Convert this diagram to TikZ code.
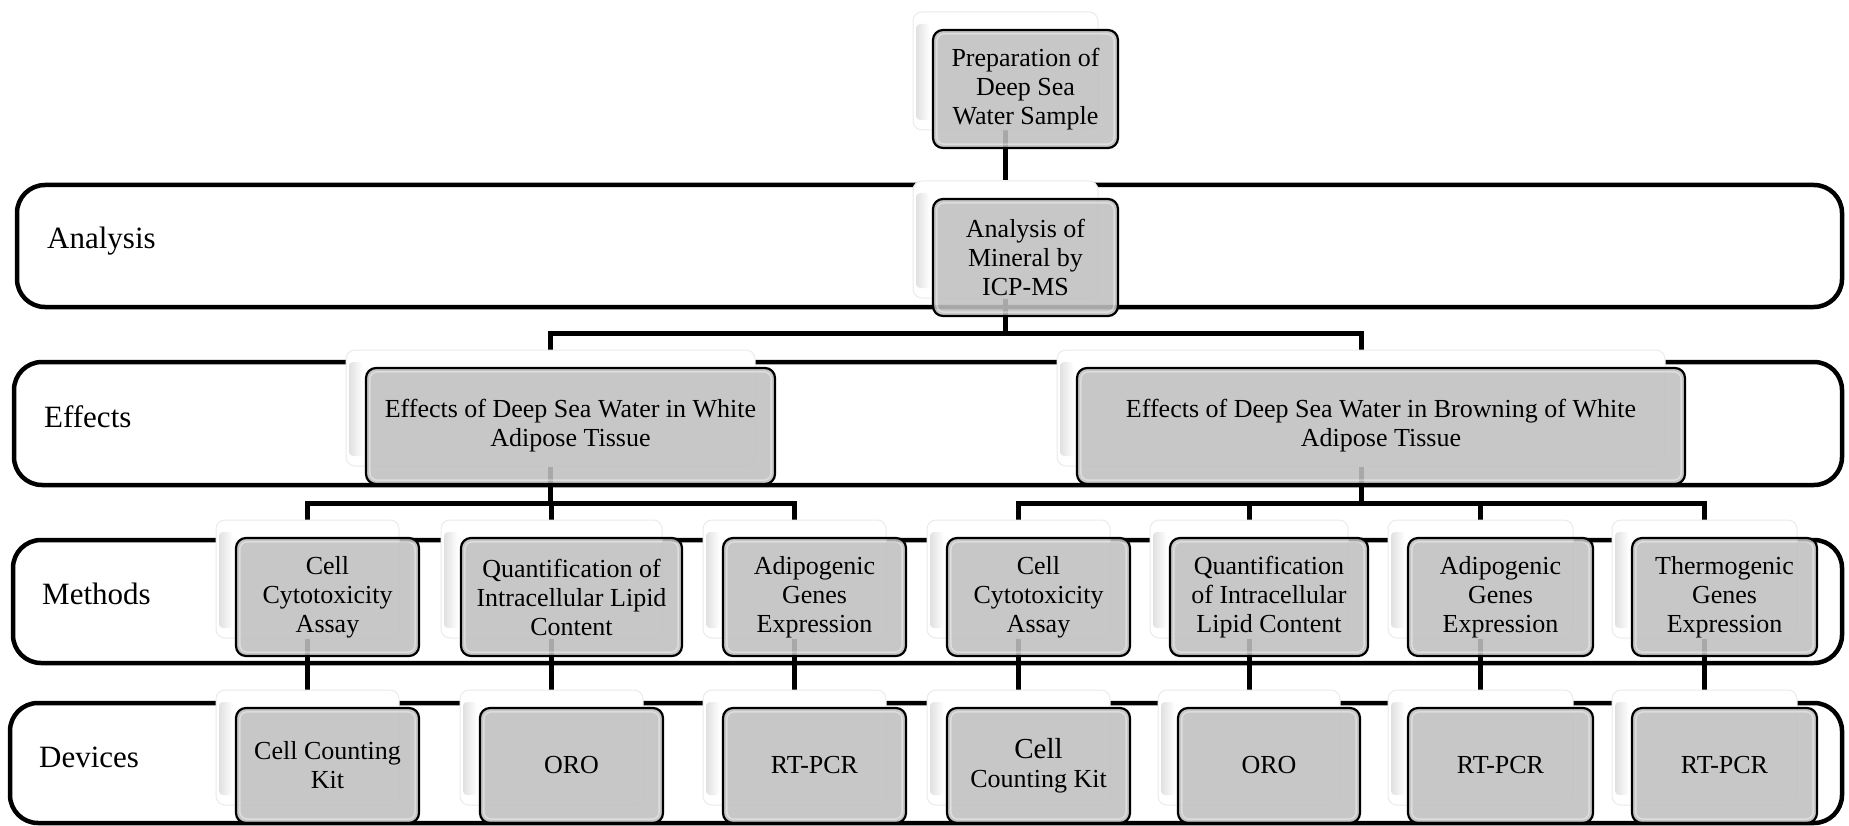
\documentclass[tikz,border=0pt]{standalone}
\usepackage{fontspec}
\setmainfont{Liberation Serif}
\usetikzlibrary{calc}
\definecolor{cardgray}{RGB}{192,192,192}
\pgfdeclarelayer{lanelayer}
\pgfdeclarelayer{connlayer}
\pgfsetlayers{lanelayer,connlayer,main}
\tikzset{
  lane/.style={draw=black, line width=4.5pt, rounded corners=28pt, fill=white},
  lanelabel/.style={anchor=base west, font=\fontsize{31}{36}\selectfont, inner sep=0pt},
  backcard/.style={draw=black!8, line width=1pt, fill=white, rounded corners=9pt, inner sep=0pt},
  frontcard/.style={draw=black, line width=2.2pt, fill=cardgray, fill opacity=0.88, text opacity=1,
    rounded corners=10pt, align=center, inner sep=2pt, font=\fontsize{26}{29}\selectfont},
  gloss/.style={draw=white, opacity=0.4, line width=1.5pt, rounded corners=7pt},
  conn/.style={draw=black, line width=5pt},
}
% name, left, top, right, bottom, text
\newcommand{\mkcard}[6]{%
  \node[backcard, minimum width={#4-#2}, minimum height={#5-#3}] (b#1) at ({(#2+#4)/2},{(#3+#5)/2}) {};
  \shade[left color=black!12, right color=white, rounded corners=4pt] (#2+3,#3+12) rectangle (#2+17,#5-10);
  \node[frontcard, minimum width={#4-#2}, minimum height={#5-#3}] (f#1) at ({(#2+#4)/2+20},{(#3+#5)/2+18}) {#6};
  \draw[gloss] ($(f#1.south west)+(5,-5)$) rectangle ($(f#1.north east)+(-5,5)$);
}
\begin{document}
\begin{tikzpicture}[x=1pt, y=-1pt]
\useasboundingbox (0,0) rectangle (1849,826);

\begin{pgfonlayer}{lanelayer}
  \path[lane] (17,185) rectangle (1842,307);
  \path[lane] (14,362) rectangle (1842,485);
  \path[lane] (13,540) rectangle (1842,663);
  \path[lane] (10,703) rectangle (1842,823);
  \node[lanelabel] (lAna) at (47,249) {Analysis};
  \node[lanelabel] (lEff) at (44,427) {Effects};
  \node[lanelabel] (lMet) at (42,604) {Methods};
  \node[lanelabel] (lDev) at (39,767) {Devices};
\end{pgfonlayer}

\mkcard{prep}{913}{12}{1098}{130}{Preparation of\\Deep Sea\\Water Sample}
\mkcard{ana}{913}{181}{1098}{298}{Analysis of\\Mineral by\\ICP-MS}
\mkcard{el}{346}{350}{755}{466}{Effects of Deep Sea Water in White\\Adipose Tissue}
\mkcard{er}{1057}{350}{1665}{466}{Effects of Deep Sea Water in Browning of White\\Adipose Tissue}

\mkcard{m1}{216}{520}{399}{638}{Cell\\Cytotoxicity\\Assay}
\mkcard{m2}{441}{520}{662}{638}{Quantification of\\Intracellular Lipid\\Content}
\mkcard{m3}{703}{520}{886}{638}{Adipogenic\\Genes\\Expression}
\mkcard{m4}{927}{520}{1110}{638}{Cell\\Cytotoxicity\\Assay}
\mkcard{m5}{1150}{520}{1348}{638}{Quantification\\of Intracellular\\Lipid Content}
\mkcard{m6}{1388}{520}{1573}{638}{Adipogenic\\Genes\\Expression}
\mkcard{m7}{1612}{520}{1797}{638}{Thermogenic\\Genes\\Expression}

\mkcard{d1}{216}{690}{399}{805}{Cell Counting\\Kit}
\mkcard{d2}{460}{690}{643}{805}{ORO}
\mkcard{d3}{703}{690}{886}{805}{RT-PCR}
\mkcard{d4}{927}{690}{1110}{805}{\fontsize{29}{32}\selectfont Cell\\Counting Kit}
\mkcard{d5}{1158}{690}{1340}{805}{ORO}
\mkcard{d6}{1388}{690}{1573}{805}{RT-PCR}
\mkcard{d7}{1612}{690}{1797}{805}{RT-PCR}

\begin{pgfonlayer}{connlayer}
  \draw[conn] (bprep.south) -- (bana.north);
  \draw[conn] (bana.south) -- ++(0,35) -| (bel.north);
  \draw[conn] (bana.south) -- ++(0,35) -| (ber.north);
  \foreach \m in {m1,m2,m3} \draw[conn] (bel.south) -- ++(0,37) -| (b\m.north);
  \foreach \m in {m4,m5,m6,m7} \draw[conn] (ber.south) -- ++(0,37) -| (b\m.north);
  \foreach \i in {1,...,7} \draw[conn] (bm\i.south) -- (bd\i.north);
\end{pgfonlayer}
\end{tikzpicture}
\end{document}
